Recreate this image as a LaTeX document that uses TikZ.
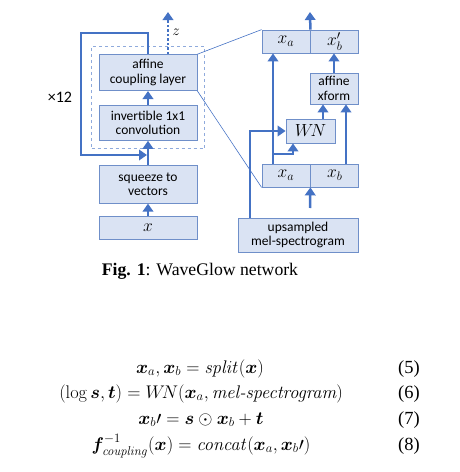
\RequirePackage{fix-cm}
\documentclass[tikz,border=0pt]{standalone}
\usepackage{amsmath}
\usepackage{bm}
\usepackage[no-math]{fontspec}
\setmainfont{Liberation Serif}
\newfontfamily\boxfont{Carlito}
\usepackage{xcolor}
\definecolor{boxfill}{HTML}{DAE3F3}
\definecolor{boxline}{HTML}{6F8FC9}
\definecolor{arrblue}{HTML}{4472C4}
\definecolor{dashc}{HTML}{8FAADC}
\usetikzlibrary{positioning, fit, arrows.meta}

\begin{document}
\begin{tikzpicture}[x=1pt, y=-1pt,
        blk/.style={draw=boxline, fill=boxfill, line width=0.8pt, align=center,
            inner sep=1pt, font=\boxfont\fontsize{13.5}{14.5}\selectfont},
        blkm/.style={blk, font=\fontsize{17.5}{19}\selectfont},
        arr/.style={draw=arrblue, line width=2.5pt, -{Triangle[width=10.5pt,length=8pt]}},
        loopl/.style={arr, line width=2.8pt},
        zarr/.style={arr, dotted},
        zoomln/.style={draw=arrblue, line width=0.6pt},
        eqn/.style={anchor=base, inner sep=0pt, font=\fontsize{18.3}{22}\selectfont},
        eqnum/.style={anchor=base, inner sep=0pt, font=\fontsize{18.5}{22}\selectfont}]
        \useasboundingbox (0,0) rectangle (459,472);

        % flow of steps
        \node[blkm, minimum width=98pt, minimum height=23pt] (xin) at (148,227.5) {$x$};
        \node[blk, minimum width=98pt, minimum height=38pt, above=12pt of xin] (sq) {squeeze to\\vectors};
        \node[blk, minimum width=98pt, minimum height=35pt, above=24pt of sq] (inv) {invertible 1x1\\convolution};
        \node[blk, minimum width=98pt, minimum height=36pt, above=14pt of inv] (aff) {affine\\coupling layer};
        \node[draw=dashc, dashed, line width=0.8pt, fit=(aff)(inv), inner xsep=7pt, inner ysep=8pt] (grp) {};
        \node[font=\boxfont\fontsize{16}{18}\selectfont] (rep) at (60,97) {×12};

        % coupling layer
        \node[blkm, minimum width=48pt, minimum height=23pt] (xa1) at (286,175.5) {$x_a$};
        \node[blkm, minimum width=48pt, minimum height=23pt, right=0pt of xa1] (xb1) {$x_b$};
        \node[blkm, minimum width=48pt, minimum height=23pt] (xa2) at (286,41.5) {$x_a$};
        \node[blkm, minimum width=48pt, minimum height=23pt, right=0pt of xa2] (xb2) {$x_b'$};
        \node[blk, minimum width=48pt, minimum height=31pt] (xf) at (334,88.5) {affine\\xform};
        \node[blkm, minimum width=49pt, minimum height=24pt] (wn) at (310.5,131) {$W\!N$};
        \node[blk, minimum width=120pt, minimum height=34pt] (up) at (298,235) {upsampled\\mel-spectrogram};

        \coordinate (lp) at (81,33);
        \coordinate (lpin) at (147,155);
        \coordinate (zt) at (168,12);
        \coordinate (out) at (310,12);
        \coordinate (inb) at (310,208);
        \coordinate (ca) at (273,0);
        \coordinate (cw) at (293,0);
        \coordinate (cm) at (250,0);
        \coordinate (cx) at (323,0);
        \coordinate (cb) at (346,0);

        \draw[arr] (xin) -- (sq);
        \draw[arr] (sq) -- (inv);
        \draw[arr] (inv) -- (aff);
        \draw[loopl] (aff.north) |- (lp) |- (lpin);
        \draw[zarr] (aff.north -| zt) -- (zt);
        \node (zl) at (176,32) {\fontsize{15}{16}\selectfont$z$};

        \draw[zoomln] (aff.north east) -- (xa2.north west);
        \draw[zoomln] (aff.south east) -- (xa1.south west);

        \draw[arr] (inb) -- (xa1.south east);
        \draw[arr] (ca |- xa1.north) -- (ca |- xa2.south);
        \draw[arr] (273,154) -| (cw |- wn.south);
        \draw[arr] (cm |- up.north) |- (wn.west);
        \draw[arr] (cb |- xb1.north) -- (cb |- xf.south);
        \draw[arr] (cx |- wn.north) -- (cx |- xf.south);
        \draw[arr] (xf.north) -- (xf.north |- xb2.south);
        \draw[arr] (xa2.north east) -- (out);

        \node[anchor=base, font=\fontsize{17.7}{20}\selectfont] (cap) at (200,275) {\textbf{Fig. 1}: WaveGlow network};

        % equations
        \node[eqn] (e5) at (200,373) {$\bm{x}_a, \bm{x}_b = \mathit{split}(\bm{x})$};
        \node[eqn] (e6) at (201,398) {$(\log \bm{s}, \bm{t}) = W\!N(\bm{x}_a, \text{\fontfamily{lmr}\itshape mel-spectrogram})$};
        \node[eqn] (e7) at (201,424) {$\bm{x}_b\prime = \bm{s} \odot \bm{x}_b + \bm{t}$};
        \node[eqn] (e8) at (201,450) {$\bm{f}^{-1}_{\mathit{coupling}}(\bm{x}) = \mathit{concat}(\bm{x}_a, \bm{x}_b\prime)$};
        \node[eqnum] (n5) at (409,373) {(5)};
        \node[eqnum] (n6) at (409,398) {(6)};
        \node[eqnum] (n7) at (409,424) {(7)};
        \node[eqnum] (n8) at (409,450) {(8)};
\end{tikzpicture}
\end{document}
